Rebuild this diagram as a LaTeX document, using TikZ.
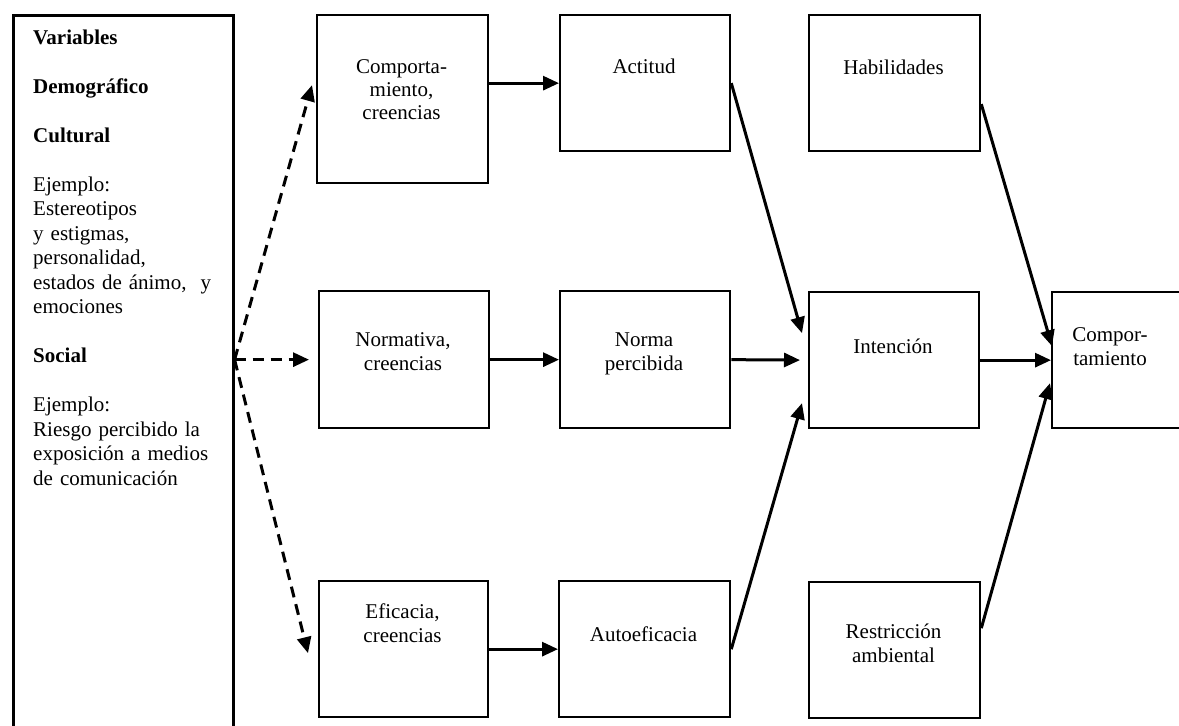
\documentclass[tikz,border=0pt]{standalone}
\usepackage{fontspec}
\setmainfont{Liberation Serif}
\usetikzlibrary{arrows.meta,calc}
\begin{document}
\begin{tikzpicture}[x=1pt,y=-1pt,
  box/.style={draw, line width=2.3pt, inner sep=0pt, rectangle, anchor=north west},
  txt/.style={inner sep=0pt, align=center, text width=165pt, font=\fontsize{21}{24}\selectfont, anchor=base},
  arr/.style={line width=3pt, -{Triangle[length=16pt,width=14pt]}},
  darr/.style={arr, dash pattern=on 11pt off 7pt}]
\clip (0,0) rectangle (1179,726);
% boxes
\node[box, line width=2.6pt, minimum width=220pt, minimum height=760pt] (vars) at (12,14) {};
\node[box, minimum width=171pt, minimum height=168pt] (comp) at (316,14) {};
\node[box, minimum width=170pt, minimum height=136pt] (act) at (559,14) {};
\node[box, minimum width=171pt, minimum height=136pt] (hab) at (808,14) {};
\node[box, minimum width=170pt, minimum height=137pt] (norm) at (318,290) {};
\node[box, minimum width=170pt, minimum height=137pt] (normp) at (559,290) {};
\node[box, minimum width=170pt, minimum height=136pt] (int) at (808,291) {};
\node[box, minimum width=160pt, minimum height=136pt] (comf) at (1051,291) {};
\node[box, minimum width=169pt, minimum height=136pt] (efic) at (318,580) {};
\node[box, minimum width=171pt, minimum height=136pt] (autoe) at (558,580) {};
\node[box, minimum width=171pt, minimum height=136pt] (restr) at (808,581) {};
% texts
\node[inner sep=0pt, align=left, text width=215pt, font=\fontsize{21}{24.5}\selectfont, anchor=base west] (varsT) at (33,44)
 {\textbf{Variables}\\[24.5pt]
  \textbf{Demográfico}\\[24.5pt]
  \textbf{Cultural}\\[24.5pt]
  Ejemplo:\\
  Estereotipos\\
  y estigmas,\\
  personalidad,\\
  estados de ánimo,~ y\\
  emociones\\[24.5pt]
  \textbf{Social}\\[24.5pt]
  Ejemplo:\\
  Riesgo percibido la\\
  exposición a medios\\
  de comunicación};
\node[txt, font=\fontsize{21}{23}\selectfont] (compT) at (401.5,73) {Comporta-\\miento,\\creencias};
\node[txt] (actT) at (644,73) {Actitud};
\node[txt] (habT) at (893.5,74) {Habilidades};
\node[txt] (normT) at (403,346) {Normativa,\\creencias};
\node[txt] (normpT) at (644,346) {Norma\\percibida};
\node[txt] (intT) at (893,353) {Intención};
\node[txt] (comfT) at (1110,341) {Compor-\\tamiento};
\node[txt] (eficT) at (402.5,618) {Eficacia,\\creencias};
\node[txt] (autoeT) at (643.5,641) {Autoeficacia};
\node[txt] (restrT) at (893.5,638) {Restricción\\ambiental};
% solid arrows
\draw[arr] (comp.east |- act.west) -- (act.west);
\draw[arr] (norm.east) -- (normp.west);
\draw[arr, shorten >=8pt] (normp.east) -- (int.west);
\draw[arr] (int.east) -- (comf.west);
\draw[arr] (efic.east) -- (autoe.west);
\draw[arr] (act.east) -- ($(int.west)+(-6,-27)$);
\draw[arr] (autoe.east) -- ($(int.west)+(-6,43)$);
\draw[arr] ($(hab.east)+(0,21)$) -- ($(comf.west)+(1,-14)$);
\draw[arr] ($(restr.east)+(0,-22)$) -- ($(comf.west)+(-1,23)$);
% dashed arrows
\draw[darr] (vars.east |- norm.west) -- ($(comp.west)+(-4,-14)$);
\draw[darr, shorten >=9pt] (vars.east |- norm.west) -- (norm.west);
\draw[darr] (vars.east |- norm.west) -- ($(efic.west)+(-10,4)$);
\end{tikzpicture}
\end{document}
